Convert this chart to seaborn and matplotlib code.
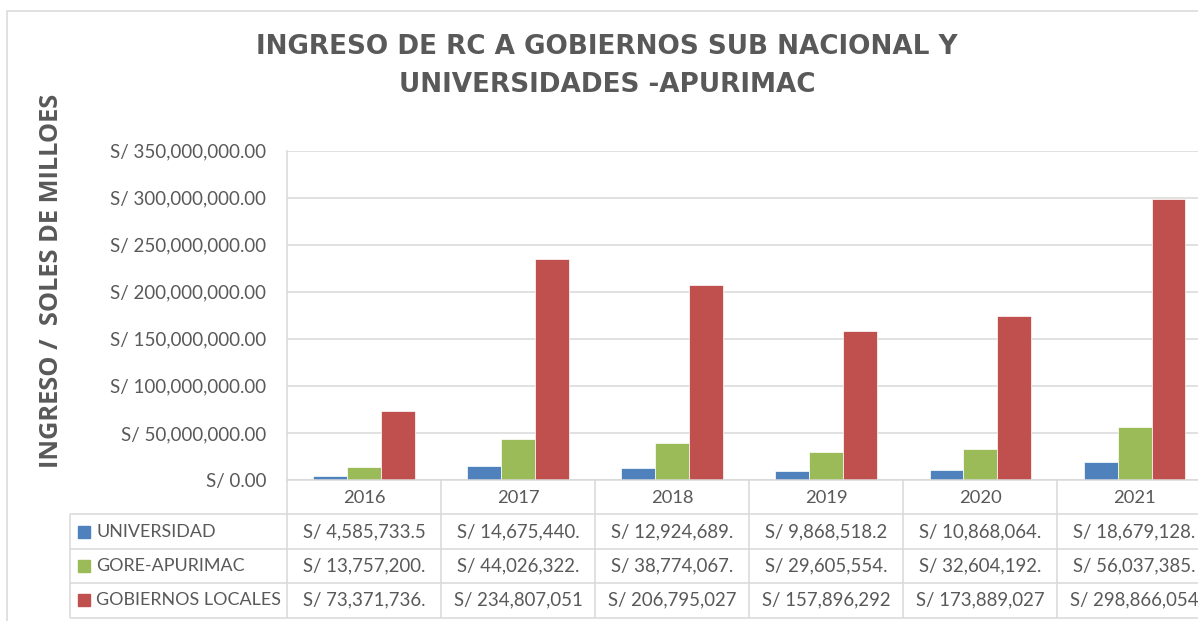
"""
plot.py
Ingreso de RC a gobiernos sub nacional y universidades - Apurimac.
Clustered bars + Excel-style data table underneath. Saves out.png.
"""

import matplotlib
matplotlib.use('Agg')
import numpy as np
import pandas as pd
import matplotlib.pyplot as plt
import matplotlib.ticker as mticker
from matplotlib.patches import Rectangle
import seaborn as sns

# ── data ─────────────────────────────────────────────────────────────────────
YEARS       = ['2016', '2017', '2018', '2019', '2020', '2021']
SERIES      = ['UNIVERSIDAD', 'GORE-APURIMAC', 'GOBIERNOS LOCALES']
UNIVERSIDAD = [4585733.5, 14675440, 12924689, 9868518.2, 10868064, 18679128]
GORE        = [13757200, 44026322, 38774067, 29605554, 32604192, 56037385]
GOB_LOCALES = [73371736, 234807051, 206795027, 157896292, 173889027, 298866054]
Y_TICKS     = [0, 50e6, 100e6, 150e6, 200e6, 250e6, 300e6, 350e6]

TITLE   = 'INGRESO DE RC A GOBIERNOS SUB NACIONAL Y\nUNIVERSIDADES -APURIMAC'
Y_LABEL = 'INGRESO /  SOLES DE MILLOES'

COLORS = ['#4f81bd', '#9bbb59', '#c0504d']
TXT    = '#595959'
GRID   = '#d9d9d9'

sns.set_theme(style='white')
plt.rcParams['font.family'] = ['Lato', 'DejaVu Sans']

W, H = 1198, 621
CAT_PX = 154.1          # width of one year column in pixels


def box(l, t, r, b):
    """pixel box (top-left origin) -> figure fraction rect"""
    return [l / W, 1 - b / H, (r - l) / W, (b - t) / H]


def money(v):
    # Excel cuts the cell text at the column width
    return f'S/ {v:,.2f}'[:14]


df = pd.DataFrame({
    'year':  YEARS * 3,
    'serie': np.repeat(SERIES, len(YEARS)),
    'value': UNIVERSIDAD + GORE + GOB_LOCALES,
})

fig = plt.figure(figsize=(W / 100, H / 100), dpi=100)

# chart area border (cut off on right / bottom, like the screenshot)
fig.add_artist(Rectangle((7 / W, -0.05), 1.2, 1.05 - 11 / H, transform=fig.transFigure,
                         fill=False, ec=GRID, lw=1.1))

# ── bars ─────────────────────────────────────────────────────────────────────
left = 287
right = left + CAT_PX * len(YEARS)
ax = fig.add_axes(box(left, 150.5, right, 480))
sns.barplot(data=df, x='year', y='value', hue='serie', hue_order=SERIES,
            palette=COLORS, saturation=1, width=0.66, errorbar=None,
            edgecolor='white', linewidth=0.5, legend=False, ax=ax)

ax.set_xlim(-0.5, len(YEARS) - 0.5)
ax.set_ylim(0, Y_TICKS[-1])
ax.set_yticks(Y_TICKS)
ax.yaxis.set_major_formatter(mticker.FuncFormatter(lambda x, _: f'S/ {x:,.2f}'))
ax.yaxis.grid(True, color=GRID, lw=1.1)
ax.xaxis.grid(False)
ax.set_axisbelow(True)
for s in ['top', 'right']:
    ax.spines[s].set_visible(False)
for s in ['left', 'bottom']:
    ax.spines[s].set_color(GRID)
    ax.spines[s].set_linewidth(1.1)
ax.tick_params(axis='y', length=0, pad=15, labelsize=13.5, labelcolor=TXT)
ax.tick_params(axis='x', length=0, labelbottom=False)
ax.set_xlabel('')
ax.set_ylabel('')

# ── data table ───────────────────────────────────────────────────────────────
tab = fig.add_axes(box(left, 480, right, 617.5))
tab.set_xlim(-0.5, len(YEARS) - 0.5)
tab.set_ylim(4, 0)
tab.axis('off')

x0 = -0.5 - (left - 70) / CAT_PX      # left edge of legend column
tab.hlines([1, 2, 3, 4], x0, len(YEARS) - 0.5, colors=GRID, lw=1.1, clip_on=False)
tab.vlines(np.arange(-0.5, len(YEARS)), 0, 4, colors=GRID, lw=1.1, clip_on=False)
tab.vlines(x0, 1, 4, colors=GRID, lw=1.1, clip_on=False)

for i, y in enumerate(YEARS):
    tab.text(i, 0.52, y, ha='center', va='center', fontsize=13.2, color=TXT)

for r, (name, vals, c) in enumerate(zip(SERIES, [UNIVERSIDAD, GORE, GOB_LOCALES], COLORS)):
    yy = r + 1.5
    tab.plot(x0 + 14 / CAT_PX, yy, marker='s', ms=8.6, color=c, clip_on=False)
    tab.text(x0 + 26 / CAT_PX, yy, name, ha='left', va='center',
             fontsize=12.9, color=TXT, clip_on=False)
    for i, v in enumerate(vals):
        tab.text(i, yy, money(v), ha='center', va='center', fontsize=13.4, color=TXT)

# ── titles ───────────────────────────────────────────────────────────────────
fig.text(607 / W, 1 - 66.5 / H, TITLE, ha='center', va='center', fontsize=18.9,
         fontweight='bold', family='DejaVu Sans', color=TXT, linespacing=1.6)
fig.text(51 / W, 1 - 280.5 / H, Y_LABEL, rotation=90, ha='center', va='center',
         fontsize=18.3, fontweight='bold', family='Open Sans', color=TXT)

fig.savefig('out.png', dpi=100)
print('Saved out.png')
